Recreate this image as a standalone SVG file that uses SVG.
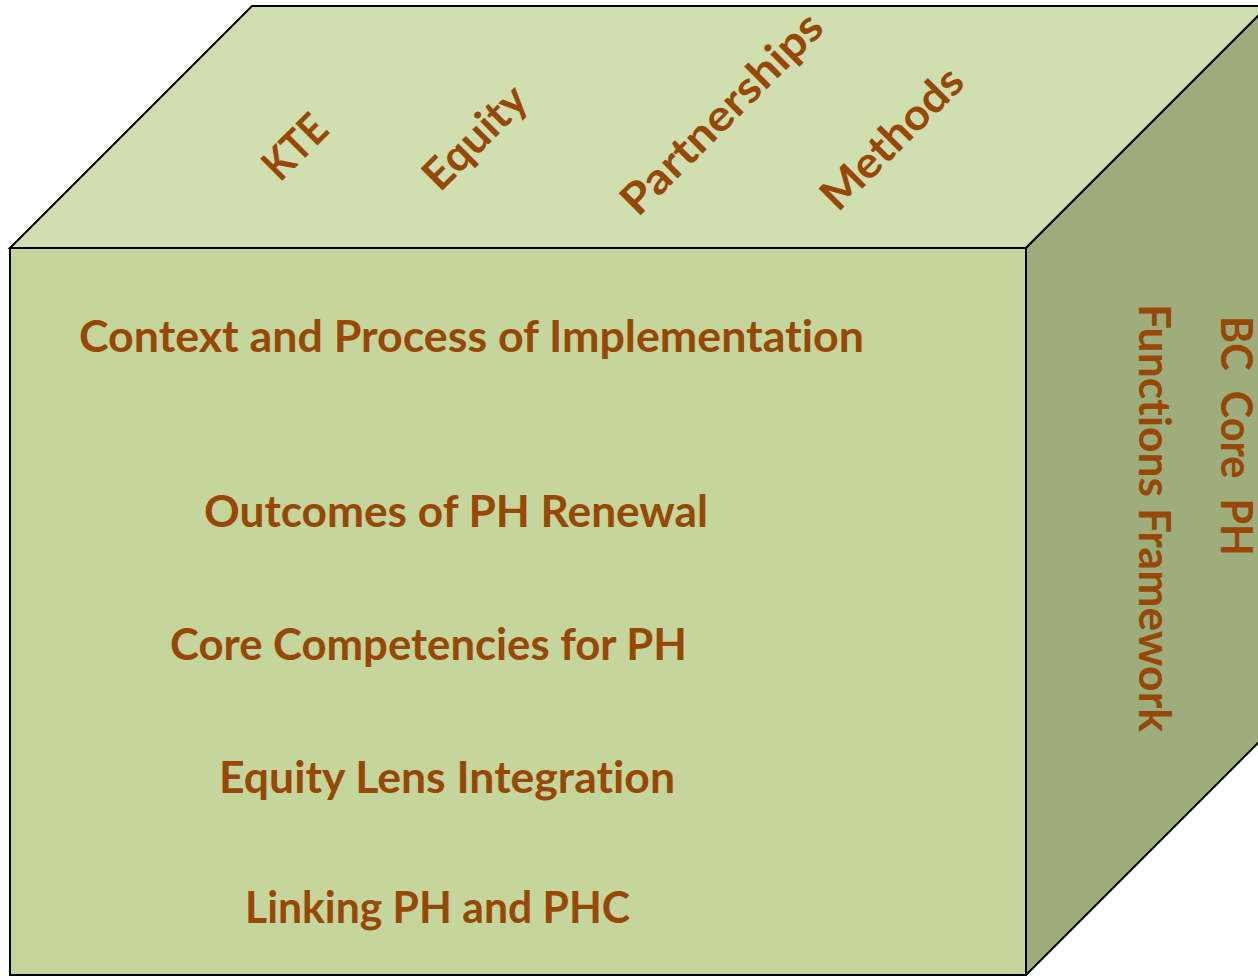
<svg xmlns="http://www.w3.org/2000/svg" width="1258" height="976" viewBox="0 0 1258 976">
<style>
.face{stroke:#000;stroke-width:2;stroke-linejoin:miter}
.top{fill:#CFDFB0}
.front{fill:#C4D69B}
.side{fill:#9DAD7C}
.lbl{font-family:"Lato","Open Sans","Liberation Sans",sans-serif;font-weight:700;font-size:43px;fill:#974806;font-variant-ligatures:none;font-feature-settings:"liga" 0,"dlig" 0}
</style>
<rect width="1258" height="976" fill="#FFFFFF"/>
<g id="cube">
<polygon id="top-face" class="face top" points="10,248 252,6 1268,6 1026,248"/>
<polygon id="right-face" class="face side" points="1026,248 1268,6 1268,733 1026,975"/>
<rect id="front-face" class="face front" x="10" y="248" width="1016" height="727"/>
</g>
<g id="top-labels">
<text id="kte" class="lbl" transform="translate(280,183) rotate(-45)" textLength="72" lengthAdjust="spacingAndGlyphs">KTE</text>
<text id="equity" class="lbl" transform="translate(440,193) rotate(-45)" textLength="128" lengthAdjust="spacingAndGlyphs">Equity</text>
<text id="partnerships" class="lbl" transform="translate(638,218) rotate(-45)" textLength="266" lengthAdjust="spacingAndGlyphs">Partnerships</text>
<text id="methods" class="lbl" transform="translate(838,213) rotate(-45)" textLength="182" lengthAdjust="spacingAndGlyphs">Methods</text>
</g>
<g id="front-labels">
<text id="context" class="lbl" x="79" y="352" textLength="785" lengthAdjust="spacingAndGlyphs">Context and Process of Implementation</text>
<text id="outcomes" class="lbl" x="204" y="527" textLength="504" lengthAdjust="spacingAndGlyphs">Outcomes of PH Renewal</text>
<text id="competencies" class="lbl" x="170" y="660" textLength="517" lengthAdjust="spacingAndGlyphs">Core Competencies for PH</text>
<text id="equity-lens" class="lbl" x="219" y="793" textLength="456" lengthAdjust="spacingAndGlyphs">Equity Lens Integration</text>
<text id="linking" class="lbl" x="245" y="923" textLength="385" lengthAdjust="spacingAndGlyphs">Linking PH and PHC</text>
</g>
<g id="side-labels">
<text id="bc-core" class="lbl" transform="translate(1221,316) rotate(90)" xml:space="preserve" style="white-space:pre" textLength="240" lengthAdjust="spacingAndGlyphs">BC  Core  PH</text>
<text id="functions" class="lbl" transform="translate(1139,304) rotate(90)" textLength="428" lengthAdjust="spacingAndGlyphs">Functions Framework</text>
</g>
</svg>
